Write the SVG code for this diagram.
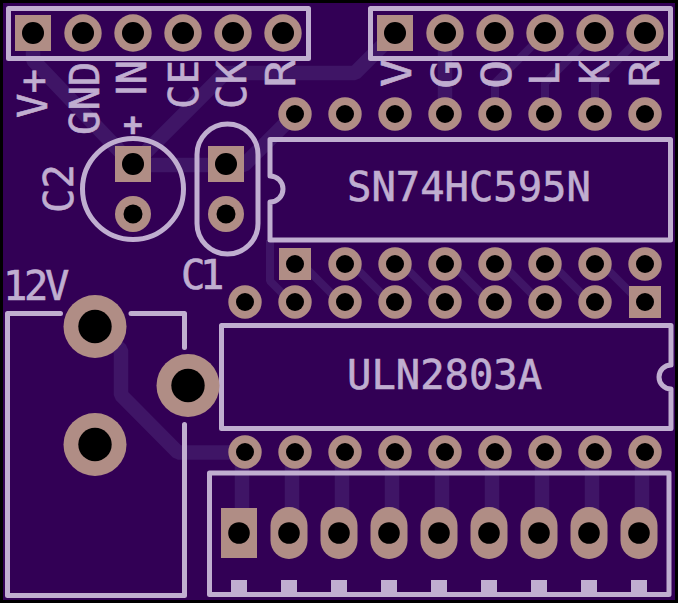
<svg xmlns="http://www.w3.org/2000/svg" width="678" height="603" viewBox="0 0 678 603">
<style>
.tr{fill:none;stroke:#3f1566;stroke-width:14.5;stroke-linejoin:bevel}
.th{fill:none;stroke:#3f1566;stroke-width:8;stroke-linejoin:bevel}
.s{fill:none;stroke:#c0aed0;stroke-width:5;stroke-linejoin:round;stroke-linecap:round}
.p{fill:#b08d85}
.h{fill:#000}
.t{fill:#c0aed0;stroke:#c0aed0;stroke-width:.6;font-family:"DejaVu Sans Mono",monospace;font-size:40.500px}
.plain{font-family:"DejaVu Sans",sans-serif}
.tooth{fill:#c0aed0}
</style>
<defs>
<g id="hp"><circle class="p" r="18.7"/><circle class="h" r="11"/></g>
<g id="hs"><rect class="p" x="-18" y="-18" width="36" height="36"/><circle class="h" r="11"/></g>
<g id="ic"><circle class="p" r="16.7"/><circle class="h" r="9"/></g>
<g id="is"><rect class="p" x="-16" y="-16" width="32" height="32"/><circle class="h" r="9"/></g>
<g id="bg"><circle class="p" r="31.5"/><circle class="h" r="16.7"/></g>
<g id="ov"><rect class="p" x="-18.500" y="-26" width="37" height="52" rx="18.500"/><circle class="h" r="10.800"/></g>
</defs>
<rect width="678" height="603" fill="#000"/>
<rect x="3" y="3" width="672" height="597" fill="#320055"/>
<g id="connectors">
<path class="tr" d="M33 33V60L133 165H226H244L295 114"/>
<path class="tr" d="M133 165L225 73H355L395 33"/>
<path class="tr" d="M445 33V114"/>
<path class="th" d="M495 114V83L545 33"/>
<path class="th" d="M545 114V83L595 33"/>
<path class="th" d="M595 114V83L645 33"/>
<path class="th" d="M270 240V281L291 302"/>
<path class="th" d="M302 264L345 307"/>
<path class="th" d="M352 264L395 307"/>
<path class="th" d="M402 264L445 307"/>
<path class="th" d="M452 264L495 307"/>
<path class="th" d="M502 264L545 307"/>
<path class="th" d="M552 264L595 307"/>
<path class="th" d="M602 264L645 307"/>
<path class="tr" d="M95 326L121 350V395L178 452.500H245"/>
<path class="tr" d="M242 452V533M292 452V533M342 452V533M392 452V533M442 452V533M492 452V533M542 452V533M592 452V533M642 452V533"/>
</g>
<g id="header-left">
<rect class="s" x="8.500" y="8.500" width="300" height="50"/>
<use href="#hs" x="33" y="33"/><use href="#hp" x="83" y="33"/><use href="#hp" x="133" y="33"/><use href="#hp" x="183" y="33"/><use href="#hp" x="233" y="33"/><use href="#hp" x="283" y="33"/>
<text class="t" transform="translate(47 118) rotate(-90)">V+</text>
<text class="t" transform="translate(99 135) rotate(-90)">GND</text>
<text class="t" transform="translate(146 96.500) rotate(-90)"><tspan class="plain">I</tspan>N</text>
<text class="t" transform="translate(198 109) rotate(-90)">CE</text>
<text class="t" transform="translate(246 109) rotate(-90)">CK</text>
<text class="t" transform="translate(295 87.500) rotate(-90) scale(1.15 1)">R</text>
</g>
<g id="header-right">
<rect class="s" x="370.500" y="8.500" width="300" height="50"/>
<use href="#hs" x="395" y="33"/><use href="#hp" x="445" y="33"/><use href="#hp" x="495" y="33"/><use href="#hp" x="545" y="33"/><use href="#hp" x="595" y="33"/><use href="#hp" x="645" y="33"/>
<text class="t" transform="translate(411 87) rotate(-90) scale(1.15 1)">V</text>
<text class="t" transform="translate(461 89) rotate(-90) scale(1.2 1)">G</text>
<text class="t" transform="translate(511 89) rotate(-90) scale(1.2 1)">O</text>
<text class="t" transform="translate(559 86) rotate(-90)">L</text>
<text class="t" transform="translate(609 84.500) rotate(-90)">K</text>
<text class="t" transform="translate(659 87.500) rotate(-90) scale(1.15 1)">R</text>
</g>
<g id="C2">
<circle class="s" cx="133" cy="189" r="50.500"/>
<use href="#hs" x="133" y="164"/>
<circle class="p" cx="133" cy="214" r="18"/><circle class="h" cx="133" cy="214" r="9.500"/>
<text class="t" transform="translate(73 213) rotate(-90)">C2</text>
<text class="t" x="133" y="135" text-anchor="middle" style="font-size:32px;font-weight:bold">+</text>
</g>
<g id="C1">
<rect class="s" x="197" y="124" width="61" height="130" rx="30.500"/>
<use href="#hs" x="226" y="164"/>
<circle class="p" cx="226" cy="214" r="18"/><circle class="h" cx="226" cy="214" r="9.500"/>
<text class="t" x="181 200" y="289">C1</text>
</g>
<g id="SN74HC595N">
<path class="s" d="M270 176V139.500H670.500V240H270V202A13 13 0 0 0 270 176Z"/>
<use href="#ic" x="295" y="114"/><use href="#ic" x="345" y="114"/><use href="#ic" x="395" y="114"/><use href="#ic" x="445" y="114"/><use href="#ic" x="495" y="114"/><use href="#ic" x="545" y="114"/><use href="#ic" x="595" y="114"/><use href="#ic" x="645" y="114"/>
<use href="#is" x="295" y="264"/><use href="#ic" x="345" y="264"/><use href="#ic" x="395" y="264"/><use href="#ic" x="445" y="264"/><use href="#ic" x="495" y="264"/><use href="#ic" x="545" y="264"/><use href="#ic" x="595" y="264"/><use href="#ic" x="645" y="264"/>
<text class="t" x="347" y="201">SN74HC595N</text>
</g>
<g id="ULN2803A">
<path class="s" d="M671 365V325.500H221.500V428.500H671V389A12 12 0 0 1 671 365Z"/>
<use href="#ic" x="245" y="302"/><use href="#ic" x="295" y="302"/><use href="#ic" x="345" y="302"/><use href="#ic" x="395" y="302"/><use href="#ic" x="445" y="302"/><use href="#ic" x="495" y="302"/><use href="#ic" x="545" y="302"/><use href="#ic" x="595" y="302"/><use href="#is" x="645" y="302"/>
<use href="#ic" x="245" y="452"/><use href="#ic" x="295" y="452"/><use href="#ic" x="345" y="452"/><use href="#ic" x="395" y="452"/><use href="#ic" x="445" y="452"/><use href="#ic" x="495" y="452"/><use href="#ic" x="545" y="452"/><use href="#ic" x="595" y="452"/><use href="#ic" x="645" y="452"/>
<text class="t" x="347" y="389">ULN2803A</text>
</g>
<g id="power-jack">
<path class="s" d="M60.500 313.500H7.500V595.500H184.500V424.500M184.500 347.500V313.500H131"/>
<use href="#bg" x="95" y="326.500"/><use href="#bg" x="188" y="385.500"/><use href="#bg" x="95" y="444.500"/>
<text class="t" x="3 24 45" y="300">12V</text>
</g>
<g id="terminal">
<rect class="s" x="209.500" y="473" width="459.500" height="121.500"/>
<rect class="tooth" x="231" y="580" width="16" height="13"/><rect class="tooth" x="281" y="580" width="16" height="13"/><rect class="tooth" x="331" y="580" width="16" height="13"/><rect class="tooth" x="381" y="580" width="16" height="13"/><rect class="tooth" x="431" y="580" width="16" height="13"/><rect class="tooth" x="481" y="580" width="16" height="13"/><rect class="tooth" x="531" y="580" width="16" height="13"/><rect class="tooth" x="581" y="580" width="16" height="13"/><rect class="tooth" x="631" y="580" width="16" height="13"/>
<rect class="p" x="221" y="508" width="36" height="50"/><circle class="h" cx="239" cy="533" r="10.800"/>
<use href="#ov" x="289" y="533"/><use href="#ov" x="339" y="533"/><use href="#ov" x="389" y="533"/><use href="#ov" x="439" y="533"/><use href="#ov" x="489" y="533"/><use href="#ov" x="539" y="533"/><use href="#ov" x="589" y="533"/><use href="#ov" x="639" y="533"/>
</g>
</svg>
